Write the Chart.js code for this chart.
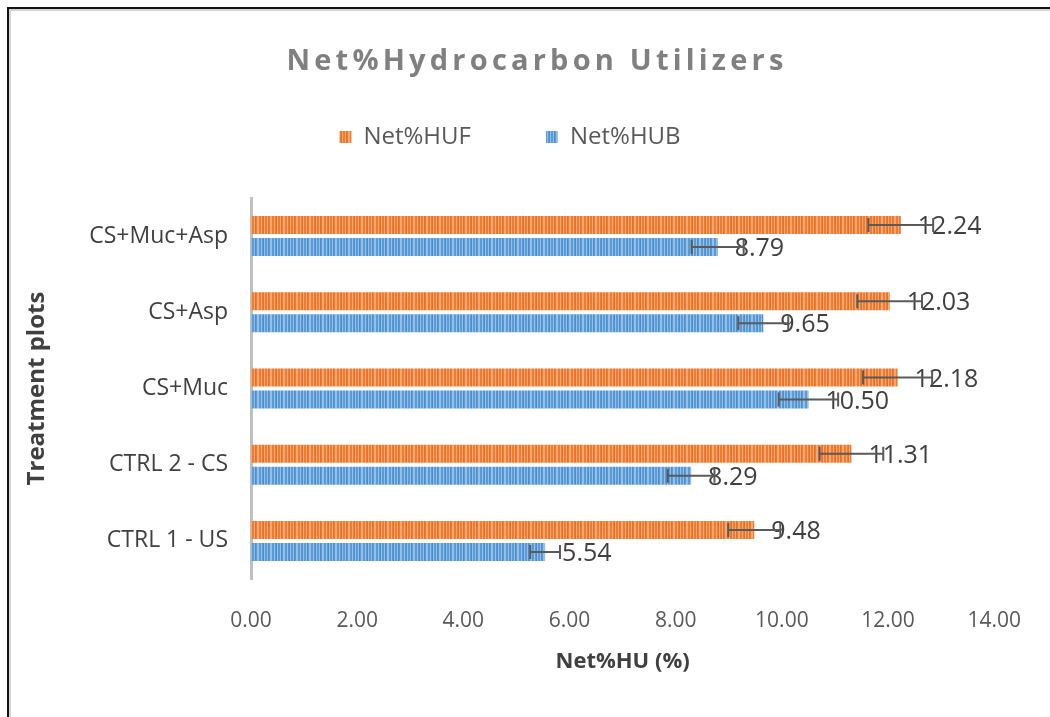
<!DOCTYPE html>
<html><head><meta charset="utf-8">
<script src="https://cdn.jsdelivr.net/npm/chart.js@4.4.1/dist/chart.umd.min.js"></script>
<style>
html,body{margin:0;padding:0;background:#fff;}
#wrap{position:relative;width:1050px;height:717px;overflow:hidden;background:#fff;}
#frame{position:absolute;left:7px;top:7px;width:1100px;height:800px;border-top:2px solid #111;border-left:2px solid #111;box-shadow:inset 2px 2px 0 #d4d4d4;pointer-events:none;}
</style></head><body>
<div id="wrap"><canvas id="c" width="1050" height="717"></canvas><div id="frame"></div></div>
<script>
const categories = ['CS+Muc+Asp', 'CS+Asp', 'CS+Muc', 'CTRL 2 - CS', 'CTRL 1 - US'];
const seriesNames = ['Net%HUF', 'Net%HUB'];
const hufValues = [12.24, 12.03, 12.18, 11.31, 9.48];
const hubValues = [8.79, 9.65, 10.50, 8.29, 5.54];
const hufErrors = [0.61, 0.61, 0.65, 0.60, 0.49];
const hubErrors = [0.49, 0.47, 0.56, 0.44, 0.28];
const xTickValues = [0, 2, 4, 6, 8, 10, 12, 14];
const chartTitle = 'Net%Hydrocarbon Utilizers';
const xAxisTitle = 'Net%HU (%)';
const yAxisTitle = 'Treatment plots';

const canvas = document.getElementById('c');
const ctx = canvas.getContext('2d');

function stripes(base, light, dark) {
  const c = document.createElement('canvas');
  c.width = 13; c.height = 4;
  const x = c.getContext('2d');
  const seq = [0, 1, 0, 2, 1, 0, 0, 1, 2, 0, 1, 1, 0];
  seq.forEach((s, i) => { x.fillStyle = [base, light, dark][s]; x.fillRect(i, 0, 1, 4); });
  return ctx.createPattern(c, 'repeat');
}
const orangePat = stripes('#ED7D31', '#F5A673', '#E4712A');
const bluePat = stripes('#5B9BD5', '#93BFE9', '#4E8CCB');

const titlePlugin = {
  id: 'manualTitle',
  afterDraw(chart) {
    const c = chart.ctx;
    c.save();
    c.font = 'bold 29px "Open Sans"';
    c.fillStyle = '#808080';
    c.textAlign = 'center';
    c.textBaseline = 'middle';
    try { c.letterSpacing = '4.2px'; } catch (e) {}
    c.fillText(chartTitle, chart.width / 2 + 12, 62);
    c.restore();
  }
};

const errPlugin = {
  id: 'errorBarsAndLabels',
  afterDatasetsDraw(chart) {
    const c = chart.ctx;
    const xs = chart.scales.x;
    chart.data.datasets.forEach((ds, di) => {
      const meta = chart.getDatasetMeta(di);
      meta.data.forEach((bar, i) => {
        const v = ds.data[i];
        const e = ds.errors[i];
        const end = xs.getPixelForValue(v);
        c.save();
        c.font = '25px "Open Sans"';
        c.fillStyle = '#404040';
        c.textAlign = 'left';
        c.textBaseline = 'middle';
        c.fillText(v.toFixed(2), end + 17, bar.y + 2);
        const x0 = xs.getPixelForValue(v - e);
        const x1 = xs.getPixelForValue(v + e);
        const h = 7;
        c.strokeStyle = '#5a5a5a';
        c.lineWidth = 2;
        c.beginPath();
        c.moveTo(x0, bar.y); c.lineTo(x1, bar.y);
        c.moveTo(x0, bar.y - h); c.lineTo(x0, bar.y + h);
        c.moveTo(x1, bar.y - h); c.lineTo(x1, bar.y + h);
        c.stroke();
        c.restore();
      });
    });
  }
};

new Chart(ctx, {
  type: 'bar',
  data: {
    labels: categories,
    datasets: [
      { label: seriesNames[0], data: hufValues, errors: hufErrors, backgroundColor: orangePat, borderWidth: 0, categoryPercentage: 0.577, barPercentage: 0.818, xAxisID: 'x', yAxisID: 'y' },
      { label: seriesNames[1], data: hubValues, errors: hubErrors, backgroundColor: bluePat, borderWidth: 0, categoryPercentage: 0.577, barPercentage: 0.818, xAxisID: 'x', yAxisID: 'y' }
    ]
  },
  options: {
    indexAxis: 'y',
    responsive: false,
    animation: false,
    layout: { padding: { left: 20, right: 50, top: 50, bottom: 0 } },
    plugins: {
      legend: {
        position: 'top',
        labels: { boxWidth: 12, boxHeight: 12, padding: 75, color: '#595959', font: { size: 24, family: 'Open Sans' } }
      },
      title: { display: false },
      tooltip: { enabled: false }
    },
    scales: {
      x: {
        min: 0, max: 14,
        afterBuildTicks(s) { s.ticks = xTickValues.map(v => ({ value: v })); },
        afterFit(s) { s.height = 138; },
        grid: { display: false, drawTicks: false },
        border: { display: false },
        ticks: { padding: 29, color: '#595959', font: { size: 21, family: 'Open Sans' }, maxRotation: 0, autoSkip: false, callback: v => Number(v).toFixed(2) },
        title: { display: true, text: xAxisTitle, color: '#404040', font: { size: 22, weight: 'bold', family: 'Open Sans' }, padding: { top: 0, bottom: 42 } }
      },
      gapTop: {
        type: 'linear',
        position: 'top',
        display: true,
        afterFit(s) { s.height = 39; },
        grid: { display: false, drawTicks: false },
        border: { display: false },
        ticks: { display: false }
      },
      y: {
        afterFit(s) { s.width = 231; },
        grid: { display: false, drawTicks: false },
        border: { display: true, color: '#bfbfbf', width: 3 },
        ticks: { padding: 23, color: '#404040', font: { size: 23, family: 'Open Sans' } },
        title: { display: true, text: yAxisTitle, color: '#404040', font: { size: 24, weight: 'bold', family: 'Open Sans' }, padding: { top: 3, bottom: 0 } }
      }
    }
  },
  plugins: [titlePlugin, errPlugin]
});
</script>
</body></html>
